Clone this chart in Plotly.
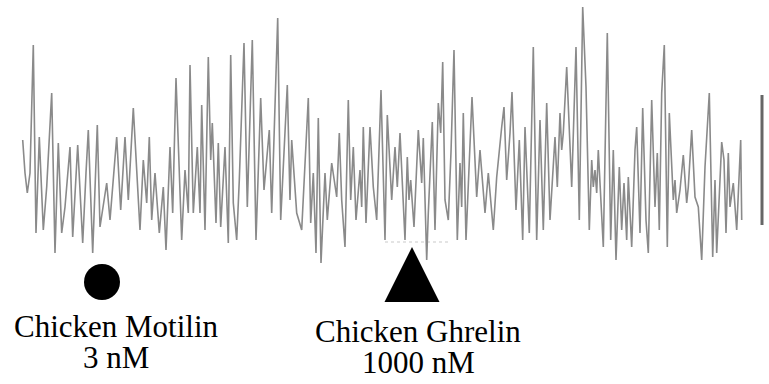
import plotly.graph_objects as go

# Isometric tension trace (time in s, tension in arbitrary units)
time_s = [22.7, 25, 27.3, 30, 33.3, 36, 39.3, 43.3, 46.7, 51.7, 55, 58.3, 61.7, 65, 70, 72.7, 77.7, 82.7, 86, 88.3,
          92.7, 97.3, 100, 106.7, 110, 116.7, 120.7, 125, 128.3, 133.3, 140, 143.3, 146.7, 149.3, 151.7, 155, 159.3,
          163.3, 166, 170, 172.7, 176, 181.7, 185, 188.3, 190, 193.3, 197.3, 200, 201.7, 205, 208.3, 210.7, 212.3,
          216, 218.3, 220.7, 225, 228.3, 230.7, 233.3, 236.7, 239.3, 244, 247.3, 252.3, 256, 260.7, 264, 269.3,
          271.7, 277.7, 280.7, 287.3, 290, 291.7, 296.7, 301.7, 308.3, 310.7, 313.3, 316, 318.3, 321, 325, 327.3,
          331.7, 336.7, 339.3, 341.7, 345, 348.3, 350.7, 353.3, 356, 360, 361.7, 363.3, 366, 370, 373.3, 376.7, 381,
          385, 387.3, 391.7, 395, 397.3, 400, 403.3, 405, 407.3, 409, 410.7, 414, 418.3, 421.7, 423.3, 426.7, 428.3,
          432.3, 435, 438.3, 440.7, 442.7, 445, 448.3, 451, 454, 457.3, 460, 461.7, 463.3, 466, 468.3, 472, 476.7,
          480, 485, 488.3, 493.3, 496.7, 501.7, 504, 506.7, 510, 512, 516, 519.3, 522.7, 525, 529.3, 533.3, 536.7,
          540, 543.3, 546.7, 550, 555, 557.3, 560, 561.7, 563.3, 566.7, 571.7, 576, 579.3, 582.7, 586, 589.3, 591.7,
          593.3, 595, 596.7, 598.3, 603.3, 607.3, 610.7, 613.3, 616, 619.3, 621.7, 624, 626.7, 628.3, 631.7, 635,
          636.7, 640, 642.7, 646, 648.3, 651.7, 655, 657.3, 659.3, 661.7, 664.3, 667.3, 669.3, 673.3, 675, 676.7,
          680, 683.3, 686.7, 688.3, 691.7, 695, 698.3, 701.7, 705, 709.3, 712.7, 715, 716.7, 721.7, 724, 726, 728.3,
          730, 733.3, 736.7, 740.7, 741.7]
tension = [130, 97, 77, 97, 225, 37, 133, 40, 83, 177, 17, 127, 37, 63, 123, 33, 125, 27, 97, 140,
           17, 145, 43, 87, 50, 133, 60, 133, 70, 162, 40, 110, 67, 133, 50, 97, 37,
           83, 20, 123, 57, 192, 30, 100, 57, 205, 57, 123, 57, 165, 40, 213, 110, 147,
           47, 127, 43, 123, 27, 215, 67, 30, 90, 227, 63, 230, 30, 172, 80, 140,
           57, 252, 50, 185, 70, 130, 57, 40, 172, 47, 97, 17, 152, 7, 97, 50,
           107, 73, 137, 70, 23, 170, 70, 123, 50, 100, 63, 143, 47, 143, 83, 50, 180,
           30, 155, 70, 123, 83, 137, 57, 30, 113, 70, 90, 43, 140, 87, 132, 10, 57,
           148, 40, 167, 137, 208, 70, 50, 118, 220, 30, 107, 63, 157, 30, 83, 173, 73,
           120, 57, 97, 40, 93, 143, 163, 90, 137, 178, 60, 130, 30, 143, 37, 223, 30,
           150, 40, 167, 50, 133, 83, 157, 120, 137, 203, 83, 223, 50, 263, 183, 40, 110,
           83, 100, 77, 120, 23, 237, 30, 120, 10, 103, 40, 87, 30, 93, 23, 120,
           143, 37, 162, 50, 17, 170, 63, 117, 40, 177, 225, 23, 157, 70, 90, 57,
           80, 115, 67, 83, 140, 73, 63, 10, 103, 177, 13, 90, 17, 128, 110, 37, 117,
           63, 87, 40, 130, 50]

# Drug additions
drug_names = ["Chicken Motilin", "Chicken Ghrelin"]
drug_doses = ["3 nM", "1000 nM"]
drug_times = [102, 412]

# Calibration bar
scale_bar_time = 762
scale_bar_low = 45
scale_bar_high = 175

fig = go.Figure()

# faint dotted baseline under the ghrelin application
fig.add_trace(go.Scatter(
    x=[drug_times[1] - 27, drug_times[1] + 38], y=[28, 28], mode="lines",
    line=dict(color="#c9c9c9", width=1, dash="dot"), hoverinfo="skip", showlegend=False))

fig.add_trace(go.Scatter(
    x=time_s, y=tension, mode="lines",
    line=dict(color="#8a8a8a", width=1.6), showlegend=False))

fig.add_trace(go.Scatter(
    x=[scale_bar_time, scale_bar_time], y=[scale_bar_low, scale_bar_high], mode="lines",
    line=dict(color="#666666", width=3), showlegend=False))

# motilin: filled circle
fig.add_trace(go.Scatter(
    x=[drug_times[0]], y=[-12], mode="markers",
    marker=dict(symbol="circle", size=36, color="black"), showlegend=False))

# ghrelin: filled triangle
tri_half = 27.5
tri_base, tri_apex = -32, 23
tg = drug_times[1]
fig.add_trace(go.Scatter(
    x=[tg - tri_half, tg + tri_half, tg, tg - tri_half],
    y=[tri_base, tri_base, tri_apex, tri_base],
    mode="lines", fill="toself", fillcolor="black",
    line=dict(color="black", width=0), showlegend=False))

label_font = dict(family="Liberation Serif, Times New Roman, serif", size=31, color="black")
label_x = [116, 418]
name_y = [-56.5, -61.5]
dose_y = [-87.5, -92.5]
for i in range(2):
    fig.add_annotation(x=label_x[i], y=name_y[i], text=drug_names[i], showarrow=False,
                       xanchor="center", yanchor="middle", font=label_font)
    fig.add_annotation(x=label_x[i], y=dose_y[i], text=drug_doses[i], showarrow=False,
                       xanchor="center", yanchor="middle", font=label_font)

fig.update_layout(
    width=769, height=384,
    margin=dict(l=0, r=0, t=0, b=0),
    paper_bgcolor="white", plot_bgcolor="white",
    xaxis=dict(range=[0, 769], visible=False, fixedrange=True),
    yaxis=dict(range=[-114, 270], visible=False, fixedrange=True),
)

fig.write_html("out.html")
